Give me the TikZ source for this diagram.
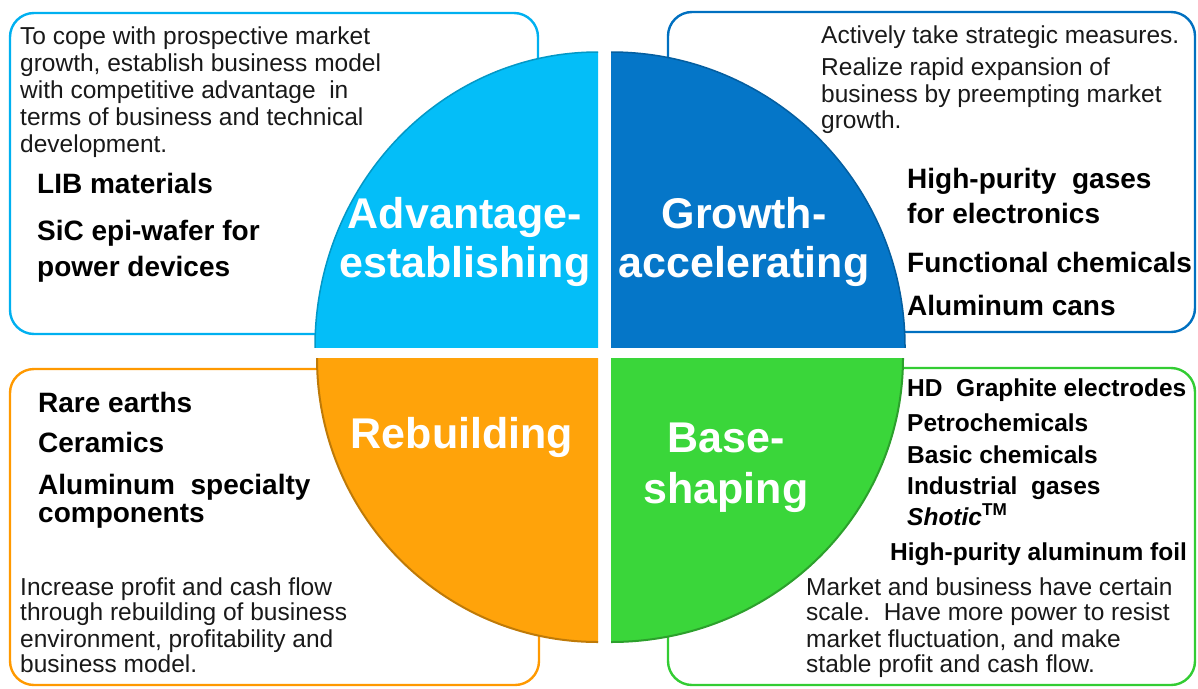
\documentclass[tikz,border=0pt]{standalone}
\usepackage{fontspec}
\setmainfont{Liberation Sans}
\frenchspacing
\definecolor{cyanQ}{RGB}{4,190,248}
\definecolor{blueQ}{RGB}{5,118,200}
\definecolor{orangeQ}{RGB}{255,163,10}
\definecolor{greenQ}{RGB}{58,214,58}
\definecolor{cyanL}{RGB}{0,176,240}
\definecolor{blueL}{RGB}{0,112,192}
\definecolor{orangeL}{RGB}{255,153,0}
\definecolor{greenL}{RGB}{51,204,51}
\begin{document}
\begin{tikzpicture}[x=1pt,y=-1pt,
  box/.style={line width=2.4pt, rounded corners=24pt},
  body/.style={anchor=base west, inner sep=0pt, text=black!90, font=\fontsize{24.5}{26}\selectfont},
  item/.style={anchor=base west, inner sep=0pt, text=black, font=\bfseries\fontsize{28}{30}\selectfont},
  itemS/.style={anchor=base west, inner sep=0pt, text=black, font=\bfseries\fontsize{24.5}{26}\selectfont},
  qlabel/.style={anchor=base, inner sep=0pt, text=white, font=\bfseries\fontsize{43}{45}\selectfont}]
\useasboundingbox (0,0) rectangle (1198,688);
% boxes
\draw[box, cyanL] (10,13) rectangle (538,334);
\draw[box, blueL] (668,12) rectangle (1195,332);
\draw[box, orangeL] (10,369) rectangle (539,685);
\draw[box, greenL] (668,368) rectangle (1195,685);
% quadrants
\begin{scope}
  \clip (598,347) rectangle (300,40);
  \fill[cyanQ] (598,347) ellipse [x radius=283, y radius=295];
  \draw[cyanQ!80!black, line width=1.5pt] (598,347) ellipse [x radius=283, y radius=295];
\end{scope}
\begin{scope}
  \clip (611,347) rectangle (920,40);
  \fill[blueQ] (611,347) ellipse [x radius=294, y radius=295];
  \draw[blueQ!80!black, line width=1.5pt] (611,347) ellipse [x radius=294, y radius=295];
\end{scope}
\begin{scope}
  \clip (598,358) rectangle (300,660);
  \fill[orangeQ] (598,358) ellipse [x radius=281, y radius=284];
  \draw[orangeQ!75!black, line width=2pt] (598,358) ellipse [x radius=281, y radius=284];
\end{scope}
\begin{scope}
  \clip (611,358) rectangle (920,660);
  \fill[greenQ] (611,358) ellipse [x radius=292, y radius=284];
  \draw[greenQ!75!black, line width=2pt] (611,358) ellipse [x radius=292, y radius=284];
\end{scope}
% quadrant labels
\node[qlabel] (qa1) at (465,228) {Advantage-};
\node[qlabel] (qa2) at (465,277) {establishing};
\node[qlabel] (qg1) at (744,228) {Growth-};
\node[qlabel] (qg2) at (744,277) {accelerating};
\node[qlabel] (qr1) at (462,448) {Rebuilding};
\node[qlabel] (qb1) at (726,452) {Base-};
\node[qlabel] (qb2) at (726,503) {shaping};
% top-left text
\node[body] (tl1) at (20,44) {To cope with prospective market};
\node[body] (tl2) at (20,71) {growth, establish business model};
\node[body] (tl3) at (20,98) {with competitive advantage~~in};
\node[body] (tl4) at (20,125) {terms of business and technical};
\node[body] (tl5) at (20,152) {development.};
\node[item] (tli1) at (37,193) {LIB materials};
\node[item] (tli2) at (37,240) {SiC epi-wafer for};
\node[item] (tli3) at (37,276) {power devices};
% top-right text
\node[body] (tr1) at (821,43) {Actively take strategic measures.};
\node[body] (tr2) at (821,75) {Realize rapid expansion of};
\node[body] (tr3) at (821,102) {business by preempting market};
\node[body] (tr4) at (821,128) {growth.};
\node[item] (tri1) at (907,188) {High-purity~~gases};
\node[item] (tri2) at (907,223) {for electronics};
\node[item] (tri3) at (907,272) {Functional chemicals};
\node[item] (tri4) at (907,315) {Aluminum cans};
% bottom-left text
\node[item] (bli1) at (38,412) {Rare earths};
\node[item] (bli2) at (38,452) {Ceramics};
\node[item] (bli3) at (38,494) {Aluminum~~specialty};
\node[item] (bli4) at (38,522) {components};
\node[body] (bl1) at (20,595) {Increase profit and cash flow};
\node[body] (bl2) at (20,620) {through rebuilding of business};
\node[body] (bl3) at (20,647) {environment, profitability and};
\node[body] (bl4) at (20,672) {business model.};
% bottom-right text
\node[itemS] (bri1) at (907,396) {HD~~Graphite electrodes};
\node[itemS] (bri2) at (907,431) {Petrochemicals};
\node[itemS] (bri3) at (907,463) {Basic chemicals};
\node[itemS] (bri4) at (907,494) {Industrial~~gases};
\node[itemS] (bri5) at (907,525) {\itshape Shotic\upshape\textsuperscript{TM}};
\node[itemS] (bri6) at (890,560) {High-purity aluminum foil};
\node[body] (br1) at (806,595) {Market and business have certain};
\node[body] (br2) at (806,620) {scale.~~Have more power to resist};
\node[body] (br3) at (806,647) {market fluctuation, and make};
\node[body] (br4) at (806,672) {stable profit and cash flow.};
\end{tikzpicture}
\end{document}
